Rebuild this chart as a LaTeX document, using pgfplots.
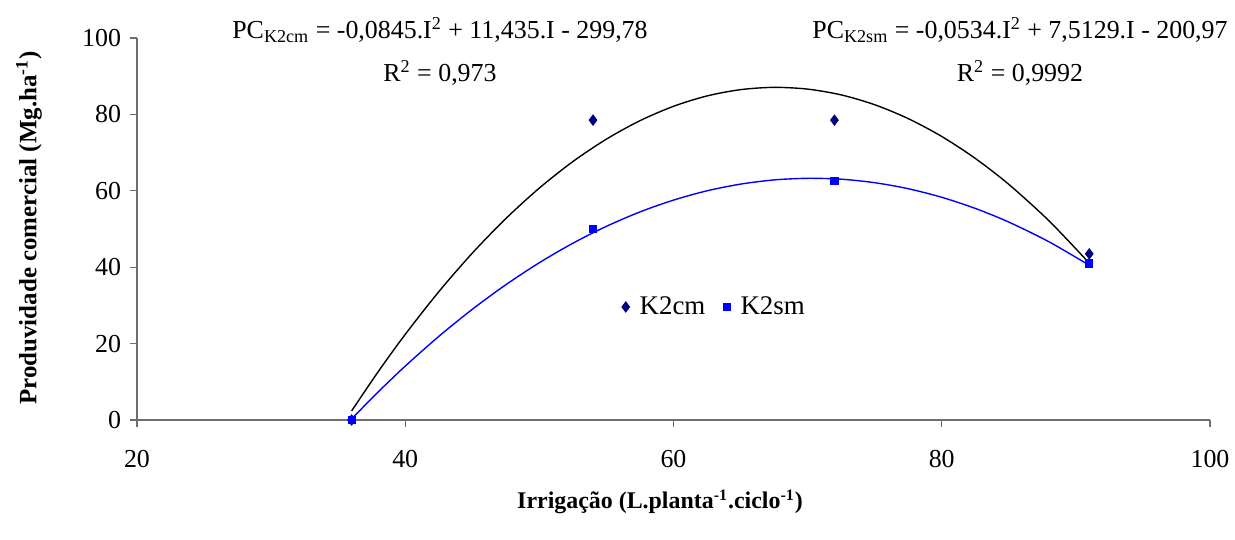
\documentclass[border=0pt]{standalone}
\usepackage{pgfplots}
\pgfplotsset{compat=1.18}
\usepackage{fontspec}
\setmainfont{Liberation Serif}
\definecolor{navyk}{RGB}{0,0,128}
\definecolor{bluek}{RGB}{0,0,255}
\definecolor{axgray}{RGB}{110,110,110}
\begin{document}
\begin{tikzpicture}[x=1bp,y=1bp]
\useasboundingbox (-68.5bp,-60bp) rectangle (549bp,210bp);
\begin{axis}[
  at={(0,0)}, anchor=south west,
  scale only axis, width=536.5bp, height=191bp,
  xmin=20, xmax=100, ymin=0, ymax=100,
  xtick={20,40,60,80,100}, ytick={0,20,40,60,80,100},
  axis x line*=bottom, axis y line*=left,
  axis line style={axgray, line width=0.6pt, -},
  tick style={axgray, line width=0.6pt},
  tick align=outside, major tick length=3.5bp,
  font=\fontsize{13}{15}\selectfont,
  /pgf/number format/assume math mode=true,
  xticklabel style={yshift=-8bp},
  yticklabel style={xshift=-1bp},
  clip=false,
  legend style={draw=none, fill=none, at={(0.539,0.296)}, anchor=center,
    legend columns=2, font=\fontsize{13.5}{15}\selectfont,
    /tikz/every odd column/.append style={column sep=3bp},
    /tikz/every even column/.append style={column sep=7bp}},
  legend image code/.code={\draw[#1] plot coordinates {(0bp,0bp)};},
]
% fitted trend curves
\addplot[black, line width=0.7pt, smooth, forget plot] coordinates {
 (36,2.37) (38,12.73) (40,22.42) (42.5,33.58) (45,43.68) (47.5,52.73) (50,60.72) (52.5,67.66) (55,73.53)
 (57.5,78.35) (60,82.12) (62.5,84.83) (65,86.48) (67.5,87.08) (70,86.62) (72.5,85.11) (75,82.53)
 (77.5,78.90) (80,74.22) (82.5,68.48) (85,61.68) (88,52.13) (91,41.06)};
\addplot[bluek, line width=0.7pt, smooth, forget plot] coordinates {
 (36,0.29) (38,7.41) (40,14.11) (42.5,21.88) (45,28.98) (47.5,35.41) (50,41.18) (52.5,46.28) (55,50.70)
 (57.5,54.47) (60,57.56) (62.5,60.00) (65,61.75) (67.5,62.85) (70,63.27) (72.5,63.04) (75,62.12)
 (77.5,60.55) (80,58.30) (82.5,55.39) (85,51.81) (88,46.64) (91,40.50)};
% observed data
\addplot[only marks, mark=diamond*, mark size=2.6bp, color=navyk] coordinates {
 (36,0) (54,78.5) (72,78.5) (91,43.5)};
\addlegendentry{K2cm}
\addplot[only marks, mark=square*, mark size=1.8bp, color=bluek] coordinates {
 (36,0) (54,50) (72,62.5) (91,41)};
\addlegendentry{K2sm}
\end{axis}
\begin{scope}[font=\fontsize{13}{15}\selectfont]
\node at (151.5bp,195bp) {PC\textsubscript{K2cm} = -0,0845.I\textsuperscript{2} + 11,435.I - 299,78};
\node at (151.5bp,173.5bp) {R\textsuperscript{2} = 0,973};
\node at (441.5bp,195bp) {PC\textsubscript{K2sm} = -0,0534.I\textsuperscript{2} + 7,5129.I - 200,97};
\node at (441.5bp,173.5bp) {R\textsuperscript{2} = 0,9992};
\node[font=\fontsize{12}{14}\selectfont\bfseries] at (261.5bp,-41bp) {Irrigação (L.planta\textsuperscript{-1}.ciclo\textsuperscript{-1})};
\node[font=\fontsize{12.5}{14}\selectfont\bfseries, rotate=90] at (-54bp,96bp) {Produvidade comercial (Mg.ha\textsuperscript{-1})};
\end{scope}
\end{tikzpicture}
\end{document}
